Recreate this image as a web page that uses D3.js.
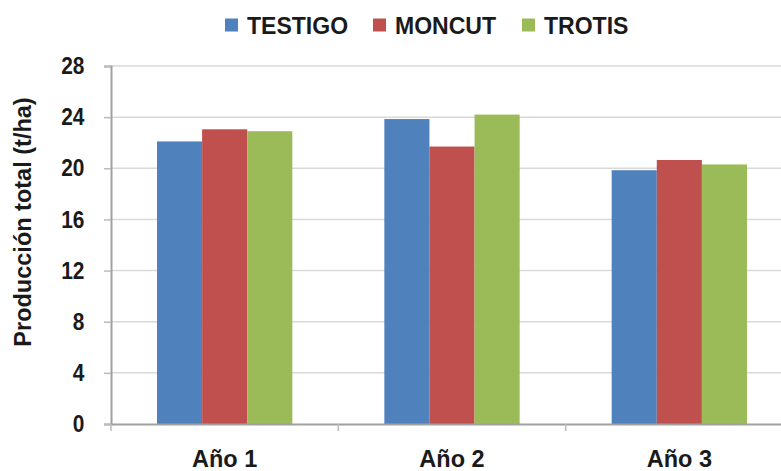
<!DOCTYPE html>
<html>
<head>
<meta charset="utf-8">
<script src="https://cdn.jsdelivr.net/npm/d3@7"></script>
<style>
    body { margin: 0; background: #fff; }
    text { font-family: "Liberation Sans", Arial, sans-serif; font-weight: bold; fill: #1a1a1a; }
</style>
</head>
<body>
<div id="chart"></div>
<script>
let categories = ["Año 1", "Año 2", "Año 3"];
let seriesNames = ["TESTIGO", "MONCUT", "TROTIS"];
let testigo = [22.1, 23.85, 19.85];
let moncut = [23.05, 21.7, 20.65];
let trotis = [22.9, 24.2, 20.3];
let yTicks = [0, 4, 8, 12, 16, 20, 24, 28];
let colors = ["#4F81BD", "#C0504D", "#9BBB59"];

let margin = { "top": 66, "bottom": 47, "right": -12, "left": 111 };
let outerWidth = 781, outerHeight = 471;
let width = outerWidth - margin.left - margin.right;
let height = outerHeight - margin.top - margin.bottom;

let series = [testigo, moncut, trotis];

let svg = d3.select('#chart')
    .append('svg')
    .attr('width', outerWidth)
    .attr('height', outerHeight);

let g = svg.append('g')
    .attr('transform', 'translate(' + margin.left + ',' + margin.top + ')');

let xScale = d3.scaleBand()
    .domain(categories)
    .range([0, width])
    .paddingInner(0)
    .paddingOuter(0);
let xInner = d3.scaleBand()
    .domain(seriesNames)
    .range([0, xScale.bandwidth()])
    .paddingInner(0)
    .paddingOuter(1.02);
let yScale = d3.scaleLinear()
    .domain([0, 28])
    .range([height, 0]);

// gridlines
g.append('g')
    .selectAll('line')
    .data(yTicks.filter(function (d) { return d > 0; }))
    .enter()
    .append('line')
    .attr('x1', 0)
    .attr('x2', width)
    .attr('y1', function (d) { return yScale(d); })
    .attr('y2', function (d) { return yScale(d); })
    .attr('stroke', '#d9d9d9')
    .attr('stroke-width', 1.5);

// bars
series.forEach(function (values, si) {
    g.append('g')
        .selectAll('rect')
        .data(values)
        .enter()
        .append('rect')
        .attr('x', function (d, i) { return xScale(categories[i]) + xInner(seriesNames[si]); })
        .attr('y', function (d) { return yScale(d); })
        .attr('width', xInner.bandwidth())
        .attr('height', function (d) { return height - yScale(d); })
        .attr('fill', colors[si]);
});

// y axis
let yAxis = g.append('g')
    .call(d3.axisLeft(yScale).tickValues(yTicks).tickSize(7).tickPadding(23.5).tickFormat(d3.format('d')));
yAxis.select('.domain').attr('stroke', '#a0a0a0').attr('stroke-width', 2);
yAxis.selectAll('.tick line').attr('stroke', '#bbb').attr('stroke-width', 1.5);
yAxis.selectAll('.tick text')
    .style('font-size', '24px')
    .attr('transform', 'scale(0.87,1)');

// x axis
let xAxis = g.append('g')
    .attr('transform', 'translate(0,' + height + ')')
    .call(d3.axisBottom(xScale).tickSize(0).tickPadding(26));
xAxis.select('.domain').attr('stroke', '#a0a0a0').attr('stroke-width', 2);
xAxis.selectAll('.tick text').style('font-size', '23.5px');
xAxis.selectAll('.sep')
    .data(categories)
    .enter()
    .append('line')
    .attr('class', 'sep')
    .attr('x1', function (d) { return xScale(d); })
    .attr('x2', function (d) { return xScale(d); })
    .attr('y1', 0)
    .attr('y2', 7)
    .attr('stroke', '#bbb')
    .attr('stroke-width', 1.5);

// y title
svg.append('text')
    .attr('transform', 'translate(31,222) rotate(-90)')
    .attr('text-anchor', 'middle')
    .style('font-size', '23.5px')
    .text('Producción total (t/ha)');

// legend
let legendX = [225, 373, 522];
let legend = svg.append('g');
seriesNames.forEach(function (name, i) {
    legend.append('rect')
        .attr('x', legendX[i])
        .attr('y', 18.5)
        .attr('width', 13)
        .attr('height', 13)
        .attr('fill', colors[i]);
    legend.append('text')
        .attr('transform', 'translate(' + (legendX[i] + 22) + ',34) scale(0.96,1)')
        .style('font-size', '24px')
        .text(name);
});
</script>
</body>
</html>
